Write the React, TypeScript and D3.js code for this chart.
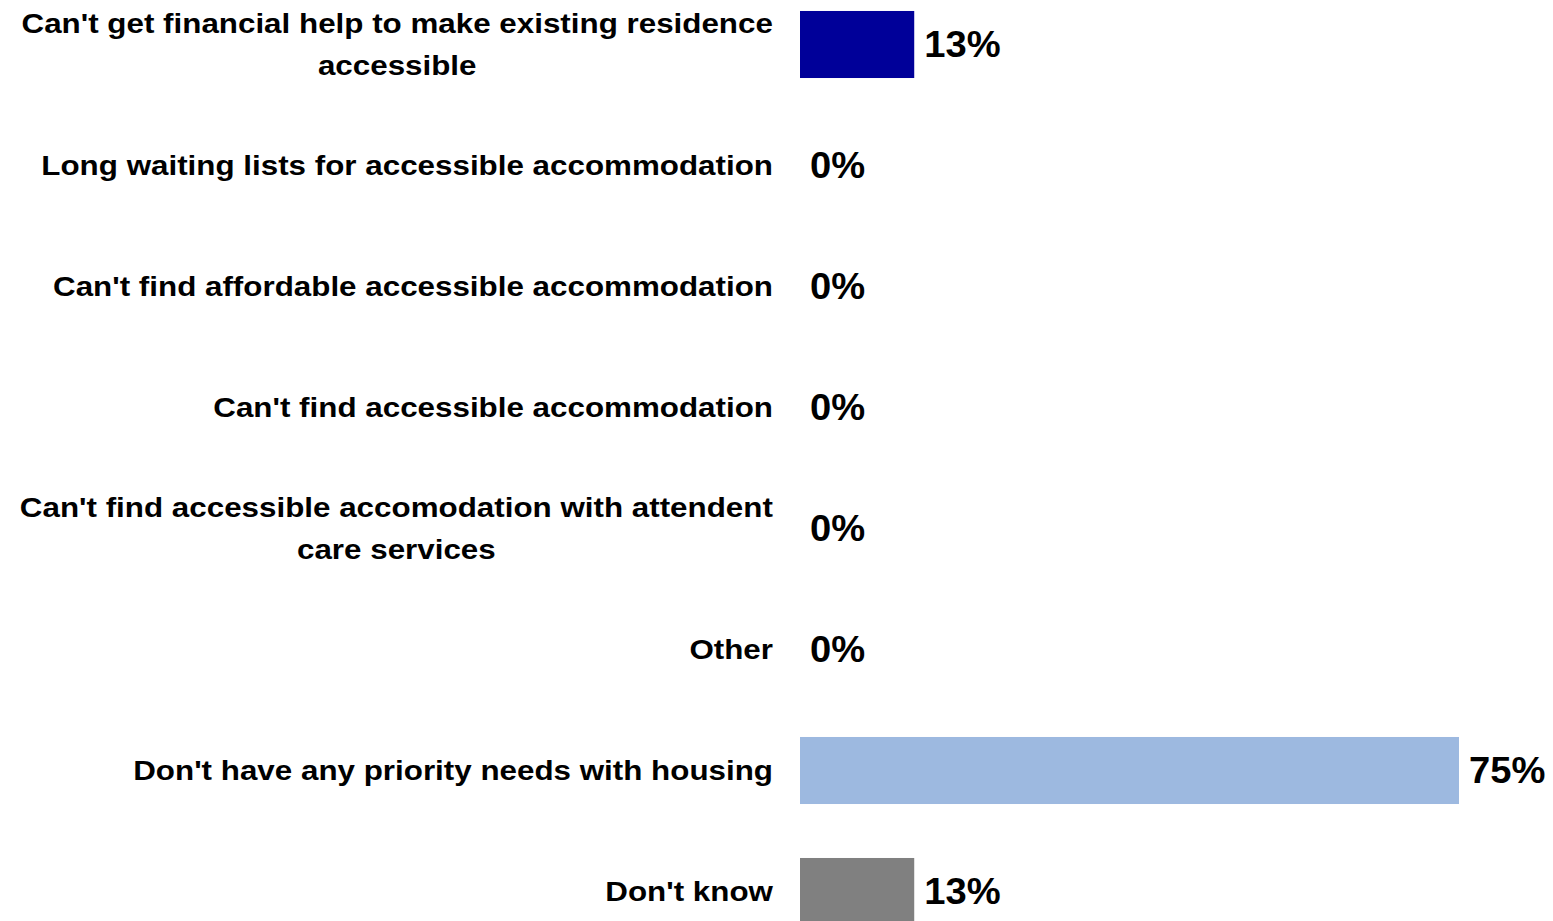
import React from "react";
import * as d3 from "d3";

const categories: string[] = [
  "Can't get financial help to make existing residence accessible",
  "Long waiting lists for accessible accommodation",
  "Can't find affordable accessible accommodation",
  "Can't find accessible accommodation",
  "Can't find accessible accomodation with attendent care services",
  "Other",
  "Don't have any priority needs with housing",
  "Don't know",
];
const values: number[] = [13, 0, 0, 0, 0, 0, 75, 13];
const colors: string[] = ["#000099", "#000099", "#000099", "#000099", "#000099", "#000099", "#9DB9E0", "#808080"];

const W = 1553;
const H = 921;
const FONT = "'Liberation Sans', Arial, sans-serif";
const LABEL_SIZE = 28;
const LABEL_SX = 1.12;
const VALUE_SIZE = 36;
const VALUE_SX = 1.06;
const LABEL_RIGHT = 773;
const WRAP = 770;

const ctx = document.createElement("canvas").getContext("2d")!;
function measure(text: string, size: number): number {
  ctx.font = `bold ${size}px ${FONT}`;
  return ctx.measureText(text).width;
}

function wrap(text: string): string[] {
  const words = text.split(" ");
  const lines: string[] = [];
  let cur = "";
  for (const w of words) {
    const t = cur ? cur + " " + w : w;
    if (measure(t, LABEL_SIZE) * LABEL_SX > WRAP && cur) {
      lines.push(cur);
      cur = w;
    } else cur = t;
  }
  if (cur) lines.push(cur);
  return lines;
}

export default function App() {
  const y = d3
    .scaleBand<string>()
    .domain(categories)
    .range([-16, 952])
    .paddingInner(0.446)
    .paddingOuter(0.223);
  const x = d3.scaleLinear().domain([0, 75]).range([800, 1459]);
  const lineH = 42;

  return (
    <div style={{ position: "absolute", left: 0, top: 0 }}>
      <svg width={W} height={H} style={{ display: "block" }} fontFamily={FONT} fontWeight="bold">
        <rect width={W} height={H} fill="#fff" />
        {categories.map((c, i) => {
          const y0 = y(c)!;
          const cy = y0 + y.bandwidth() / 2;
          const lines = wrap(c);
          const maxW = Math.max(...lines.map((l) => measure(l, LABEL_SIZE))) * LABEL_SX;
          const multi = lines.length > 1;
          const tx = multi ? LABEL_RIGHT - maxW / 2 : LABEL_RIGHT;
          return (
            <g key={c}>
              <g transform={`translate(${tx},${cy}) scale(${LABEL_SX},1)`}>
                <text textAnchor={multi ? "middle" : "end"} fontSize={LABEL_SIZE} fill="#000">
                  {lines.map((l, j) => (
                    <tspan key={j} x={0} y={(j - (lines.length - 1) / 2) * lineH} dy="0.35em">
                      {l}
                    </tspan>
                  ))}
                </text>
              </g>
              {values[i] > 0 && (
                <rect
                  x={x(0)}
                  y={y0}
                  width={x(values[i]) - x(0)}
                  height={y.bandwidth()}
                  fill={colors[i]}
                />
              )}
              <g transform={`translate(${x(values[i]) + 10},${cy}) scale(${VALUE_SX},1)`}>
                <text dy="0.35em" fontSize={VALUE_SIZE} fill="#000">
                  {values[i] + "%"}
                </text>
              </g>
            </g>
          );
        })}
      </svg>
    </div>
  );
}
